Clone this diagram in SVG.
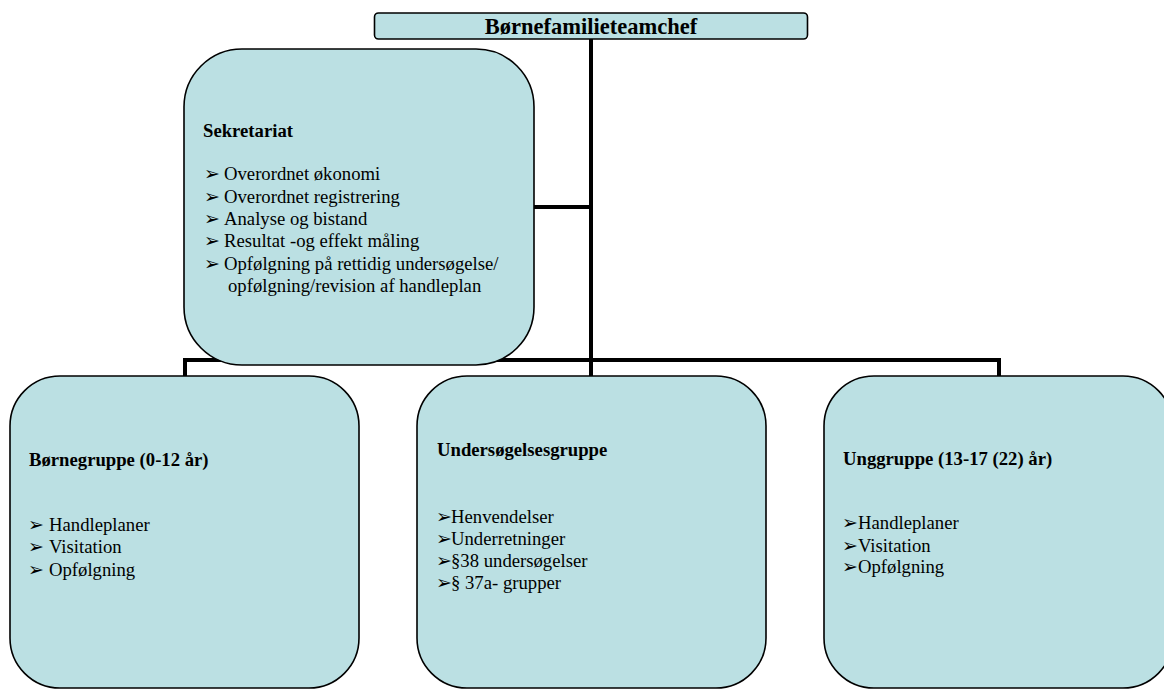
<svg xmlns="http://www.w3.org/2000/svg" width="1164" height="689" viewBox="0 0 1164 689">
<style>
.box{fill:#BBE0E3;stroke:#000;stroke-width:1.6}
.conn{fill:none;stroke:#000;stroke-width:4}
.t{font-family:"Liberation Serif","Times New Roman",serif;font-size:18.7px;fill:#000}
.b{font-weight:bold}
.title{font-family:"Liberation Serif","Times New Roman",serif;font-size:22.5px;font-weight:bold;fill:#000}
.bl{font-family:"DejaVu Sans",sans-serif;font-size:19px;fill:#000}
</style>
<rect width="1164" height="689" fill="#fff"/>
<g id="connectors">
<path class="conn" d="M591 39 V376"/>
<path class="conn" d="M534 207 H591"/>
<path class="conn" d="M185 376 V360 H999 V376"/>
</g>
<g id="chef">
<rect class="box" x="374.5" y="13" width="433" height="26" rx="4" stroke-width="2"/>
<text class="title" x="591" y="34" text-anchor="middle">Børnefamilieteamchef</text>
</g>
<g id="sekretariat">
<rect class="box" x="184" y="49" width="350" height="316" rx="58"/>
<text class="t b" x="203" y="137">Sekretariat</text>
<text class="bl" x="204" y="180">➢</text><text class="t" x="224" y="180">Overordnet økonomi</text>
<text class="bl" x="204" y="203">➢</text><text class="t" x="224" y="203">Overordnet registrering</text>
<text class="bl" x="204" y="225">➢</text><text class="t" x="224" y="225">Analyse og bistand</text>
<text class="bl" x="204" y="247">➢</text><text class="t" x="224" y="247">Resultat -og effekt måling</text>
<text class="bl" x="204" y="270">➢</text><text class="t" x="224" y="270">Opfølgning på rettidig undersøgelse/</text>
<text class="t" x="228" y="292">opfølgning/revision af handleplan</text>
</g>
<g id="bornegruppe">
<rect class="box" x="10" y="376" width="349" height="312" rx="50"/>
<text class="t b" x="29" y="466">Børnegruppe (0-12 år)</text>
<text class="bl" x="28" y="531">➢</text><text class="t" x="49" y="531">Handleplaner</text>
<text class="bl" x="28" y="553">➢</text><text class="t" x="49" y="553">Visitation</text>
<text class="bl" x="28" y="576">➢</text><text class="t" x="49" y="576">Opfølgning</text>
</g>
<g id="undersogelsesgruppe">
<rect class="box" x="417" y="376" width="349" height="312" rx="50"/>
<text class="t b" x="437" y="456">Undersøgelsesgruppe</text>
<text class="bl" x="436" y="523">➢</text><text class="t" x="451" y="523">Henvendelser</text>
<text class="bl" x="436" y="545">➢</text><text class="t" x="451" y="545">Underretninger</text>
<text class="bl" x="436" y="567">➢</text><text class="t" x="451" y="567">§38 undersøgelser</text>
<text class="bl" x="436" y="589">➢</text><text class="t" x="451" y="589">§ 37a- grupper</text>
</g>
<g id="unggruppe">
<rect class="box" x="824" y="376" width="349" height="312" rx="50"/>
<text class="t b" x="843" y="465">Unggruppe (13-17 (22) år)</text>
<text class="bl" x="842" y="529">➢</text><text class="t" x="858" y="529">Handleplaner</text>
<text class="bl" x="842" y="552">➢</text><text class="t" x="858" y="552">Visitation</text>
<text class="bl" x="842" y="573">➢</text><text class="t" x="858" y="573">Opfølgning</text>
</g>
</svg>
